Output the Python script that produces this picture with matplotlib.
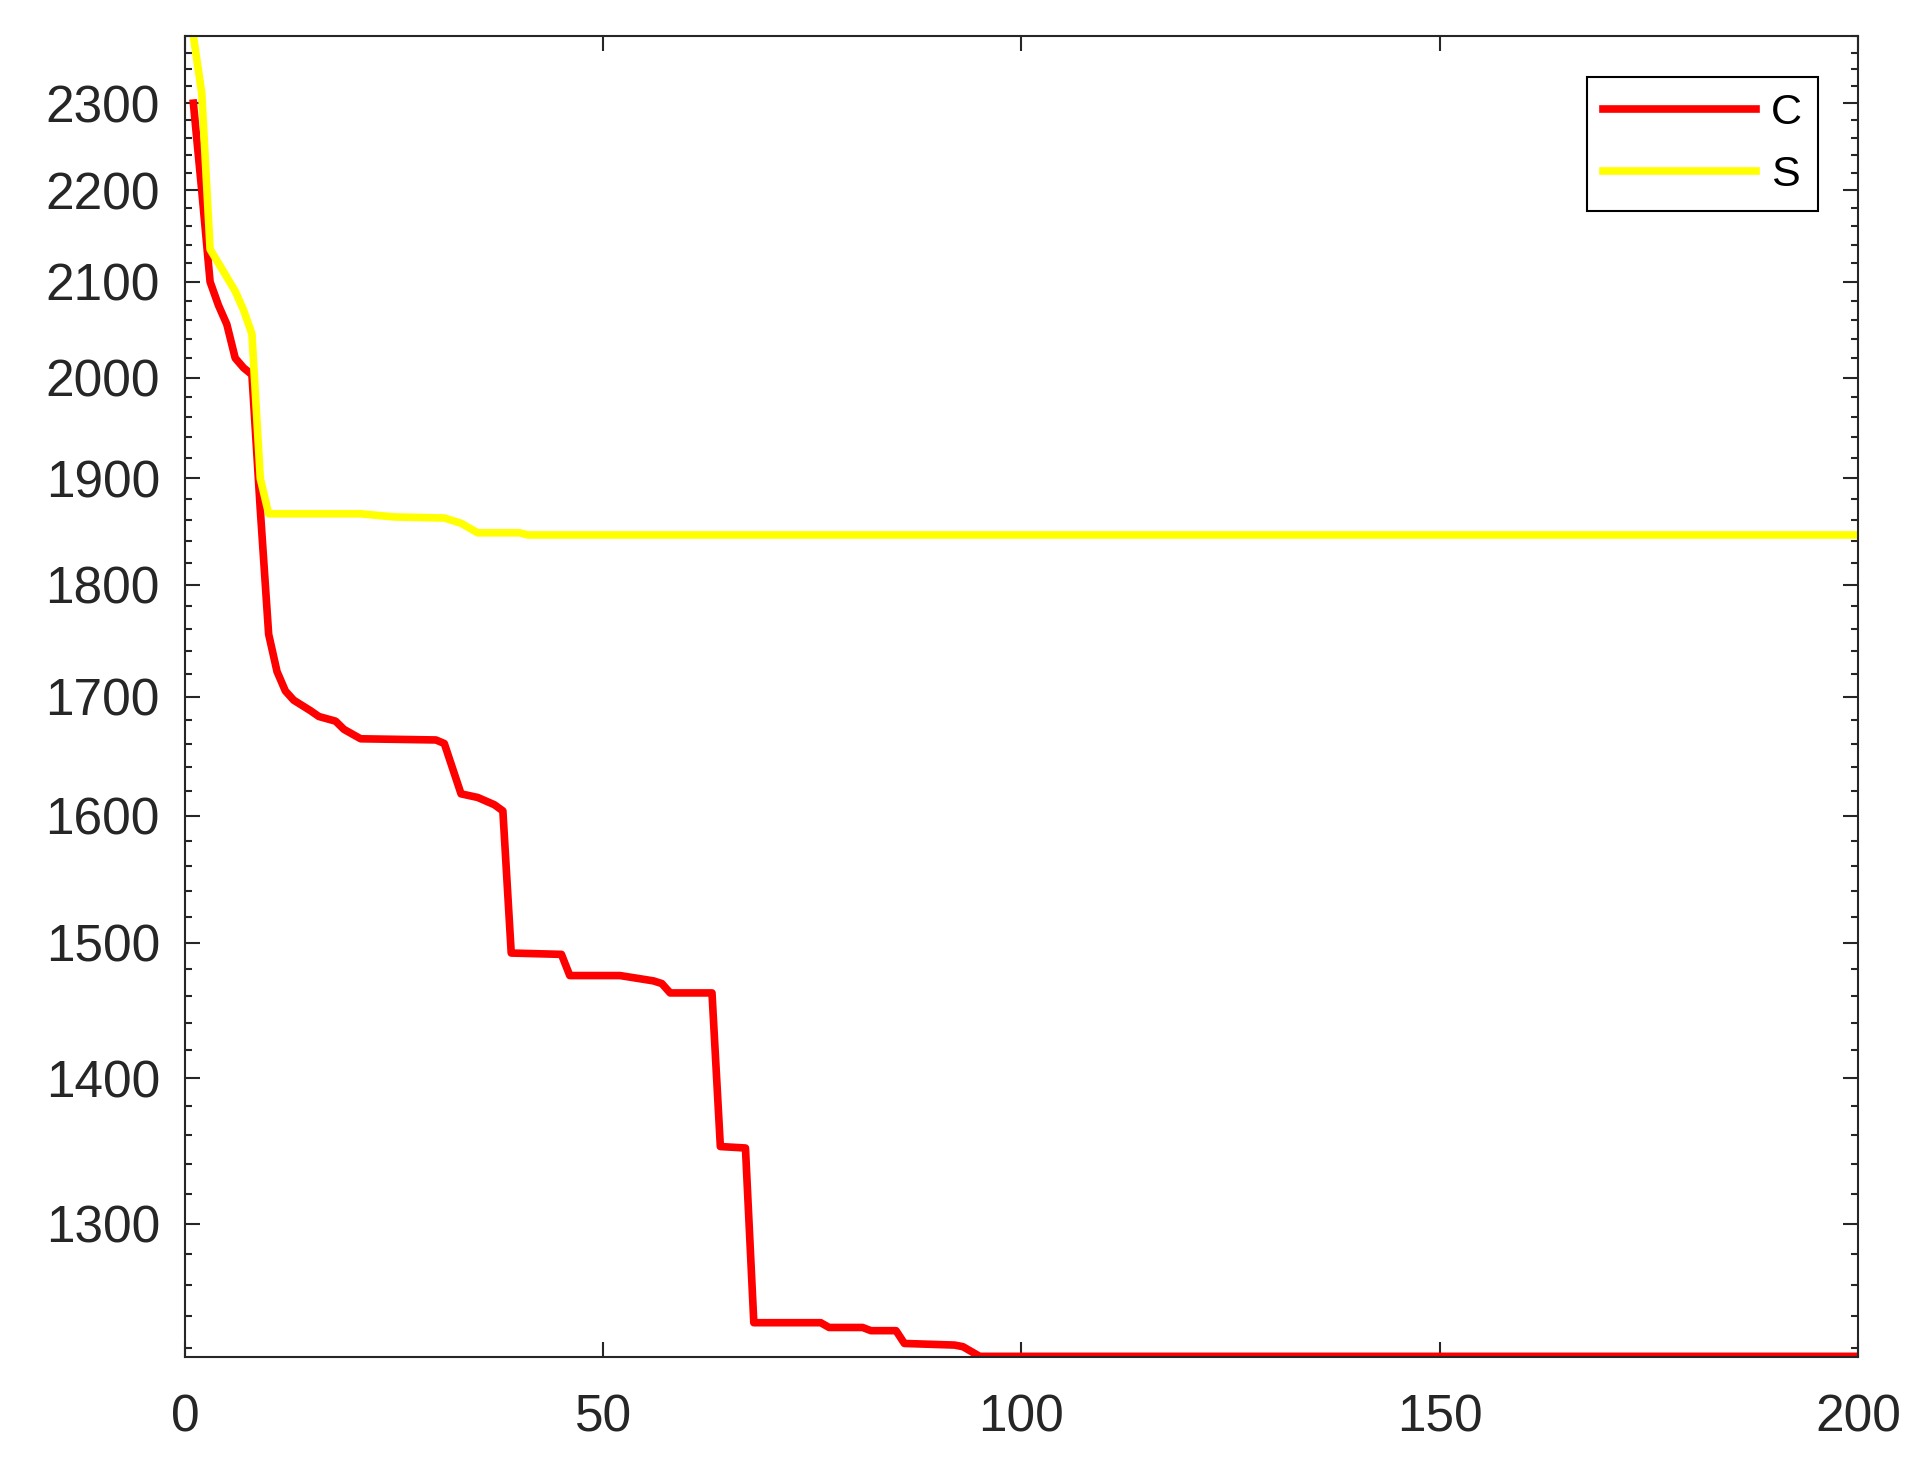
import matplotlib
matplotlib.use("Agg")
import matplotlib.pyplot as plt
from matplotlib.ticker import FixedLocator, NullFormatter, FixedFormatter

plt.rcParams['font.family'] = ['Liberation Sans', 'DejaVu Sans']

# Series C (red) – breakpoints
c_x = [1, 2, 3, 4, 5, 6, 7, 8, 9, 10, 11, 12, 13, 15, 16, 18, 19, 21, 30, 31,
       33, 35, 37, 38, 39, 45, 46, 52, 56, 57, 58, 63, 64, 67, 68, 76, 77, 81,
       82, 85, 86, 92, 93, 95, 200]
c_y = [2300, 2200, 2100, 2075, 2055, 2020, 2010, 2003, 1870, 1755, 1722, 1705,
       1697, 1688, 1683, 1679, 1672, 1664, 1663, 1660, 1618, 1615, 1609, 1604,
       1492, 1491, 1475, 1475, 1471, 1469, 1462, 1462, 1352, 1351, 1236, 1236,
       1233, 1233, 1231, 1231, 1223, 1222, 1221, 1215, 1215]

# Series S (yellow)
s_x = [1, 2, 3, 4, 5, 6, 7, 8, 9, 10, 21, 25, 31, 33, 35, 40, 41, 200]
s_y = [2380, 2312, 2135, 2120, 2105, 2090, 2070, 2045, 1900, 1866, 1866, 1863,
       1862, 1857, 1848, 1848, 1846, 1846]

labels = ['C', 'S']
x_ticks = [0, 50, 100, 150, 200]
y_ticks = [1300, 1400, 1500, 1600, 1700, 1800, 1900, 2000, 2100, 2200, 2300]

fig = plt.figure(figsize=(19.31, 14.73), dpi=100)
ax = fig.add_axes([185/1931, 1-1357/1473, (1858-185)/1931, (1357-36)/1473])

ax.plot(c_x, c_y, color=(1, 0, 0), lw=5.5, label=labels[0], solid_joinstyle='round')
ax.plot(s_x, s_y, color=(1, 1, 0), lw=5.5, label=labels[1], solid_joinstyle='round')

ax.set_yscale('log')
ax.set_xlim(0, 200)
ax.set_ylim(1214.6, 2380)

ax.xaxis.set_major_locator(FixedLocator(x_ticks))
ax.yaxis.set_major_locator(FixedLocator(y_ticks))
ax.yaxis.set_minor_locator(FixedLocator(list(range(1220, 2400, 20))))
ax.yaxis.set_major_formatter(FixedFormatter([str(v) for v in y_ticks]))
ax.yaxis.set_minor_formatter(NullFormatter())
ax.xaxis.set_minor_locator(FixedLocator([]))

for s in ax.spines.values():
    s.set_linewidth(1.5)
    s.set_color('#262626')

ax.tick_params(axis='both', which='major', direction='in', length=10.5, width=1.5,
               labelsize=37, colors='#262626', labelcolor='#262626',
               top=True, right=True)
ax.tick_params(axis='y', which='minor', direction='in', length=5, width=1.5,
               colors='#262626', right=True)
ax.tick_params(axis='y', which='major', pad=18)
ax.tick_params(axis='x', which='major', pad=26)

leg = ax.legend(loc='upper right', bbox_to_anchor=(1818/1931, 1-76.7/1473),
                bbox_transform=fig.transFigure, fontsize=31, frameon=True,
                fancybox=False, edgecolor='black', framealpha=1,
                handlelength=3.55, handletextpad=0.35, labelspacing=0.52,
                borderpad=0.37, borderaxespad=0)
leg.get_frame().set_linewidth(1.5)

fig.savefig('out.png', dpi=100, facecolor='white')
